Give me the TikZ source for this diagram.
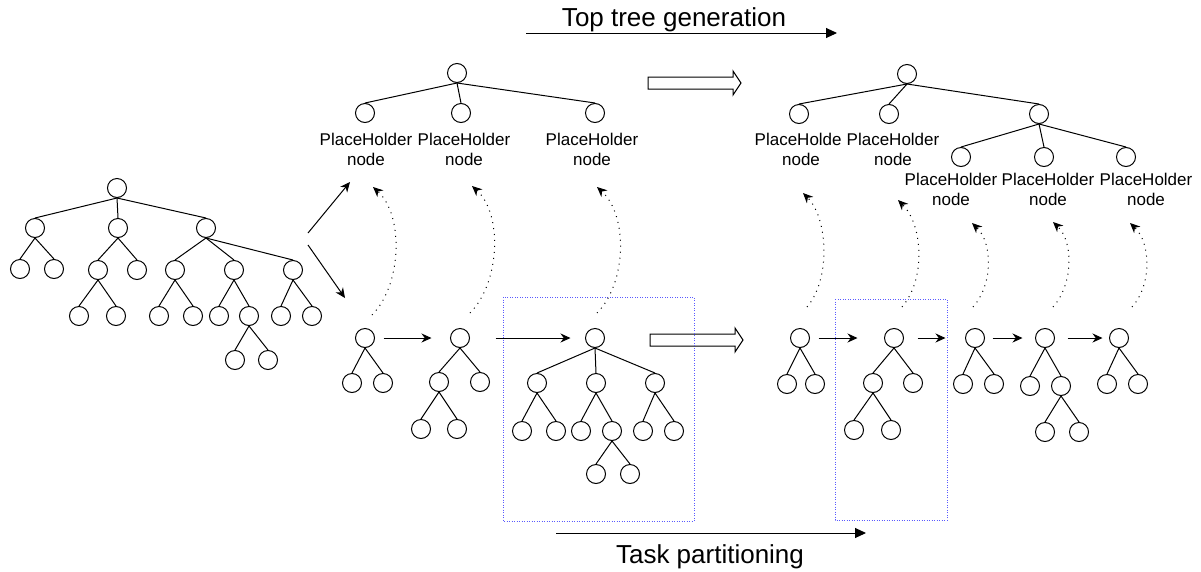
\documentclass[tikz,border=0pt]{standalone}
\usepackage{fontspec}
\setmainfont{Liberation Sans}
\usetikzlibrary{arrows.meta}
\begin{document}
\begin{tikzpicture}[x=1pt,y=-1pt,
  tn/.style={circle,draw,line width=1pt,minimum size=19pt,inner sep=0pt,fill=white},
  ed/.style={line width=1pt},
  arr/.style={line width=1pt,-{Stealth[length=10pt,width=9pt]}},
  dotarr/.style={line width=1pt,dash pattern=on 1pt off 5pt,-{Stealth[length=10pt,width=9pt]}},
  tarr/.style={line width=1pt,-{Triangle[length=11pt,width=10pt]}},
  lbl/.style={font=\fontsize{17}{20}\selectfont,align=center,inner sep=0pt},
  ttl/.style={font=\fontsize{26}{30}\selectfont,inner sep=0pt},
  grp/.style={draw={rgb,255:red,90;green,90;blue,255},line width=1pt,dash pattern=on 1pt off 1.5pt},
  hollow/.style={draw,line width=1pt,fill=white}
]
\useasboundingbox (0,0) rectangle (1201,571);

% ---------- left tree ----------
\node[tn] (L0) at (117,188) {};
\node[tn] (L1) at (35,228) {};
\node[tn] (L2) at (118,228) {};
\node[tn] (L3) at (206,228) {};
\node[tn] (L11) at (20,269) {};
\node[tn] (L12) at (54,269) {};
\node[tn] (L21) at (98,270) {};
\node[tn] (L22) at (137,270) {};
\node[tn] (L31) at (175,270) {};
\node[tn] (L32) at (234,270) {};
\node[tn] (L33) at (293,270) {};
\node[tn] (L211) at (79,316) {};
\node[tn] (L212) at (116,316) {};
\node[tn] (L311) at (159,316) {};
\node[tn] (L312) at (193,316) {};
\node[tn] (L321) at (219,316) {};
\node[tn] (L322) at (249,316) {};
\node[tn] (L331) at (281,316) {};
\node[tn] (L332) at (312,316) {};
\node[tn] (L3221) at (235,360) {};
\node[tn] (L3222) at (268,360) {};
\foreach \p/\c in {L0/L1,L0/L2,L0/L3,L1/L11,L1/L12,L2/L21,L2/L22,L3/L31,L3/L32,L3/L33,
  L21/L211,L21/L212,L31/L311,L31/L312,L32/L321,L32/L322,L33/L331,L33/L332,L322/L3221,L322/L3222}
  \draw[ed] (\p.south) -- (\c.north);

\coordinate (la1) at (308,233);
\coordinate (la2) at (350,182);
\coordinate (lb1) at (308,245);
\coordinate (lb2) at (345,298);
\draw[arr] (la1) -- (la2);
\draw[arr] (lb1) -- (lb2);

% ---------- top middle tree ----------
\node[tn] (M0) at (457,73) {};
\node[tn] (M1) at (365,113) {};
\node[tn] (M2) at (461,113) {};
\node[tn] (M3) at (595,113) {};
\foreach \c in {M1,M2,M3} \draw[ed] (M0.south) -- (\c.north);
\node[lbl] (ML1) at (366,149) {PlaceHolder\\node};
\node[lbl] (ML2) at (464,149) {PlaceHolder\\node};
\node[lbl] (ML3) at (592,149) {PlaceHolder\\node};

% ---------- top right tree ----------
\node[tn] (R0) at (907,74) {};
\node[tn] (R1) at (799,114) {};
\node[tn] (R2) at (889,114) {};
\node[tn] (R3) at (1039,114) {};
\node[tn] (R31) at (961,157) {};
\node[tn] (R32) at (1044,157) {};
\node[tn] (R33) at (1126,157) {};
\foreach \c in {R1,R2,R3} \draw[ed] (R0.south) -- (\c.north);
\foreach \c in {R31,R32,R33} \draw[ed] (R3.south) -- (\c.north);
\node[lbl] (RL1) at (801,149) {PlaceHolder\\node};
\node[lbl,fill=white,inner xsep=5pt] (RL2) at (893,149) {PlaceHolder\\node};
\node[lbl] (RL31) at (951,189) {PlaceHolder\\node};
\node[lbl] (RL32) at (1048,189) {PlaceHolder\\node};
\node[lbl] (RL33) at (1146,189) {PlaceHolder\\node};

% ---------- hollow arrows ----------
\draw[hollow] (648,77) -- (733,77) -- (733,71) -- (741,83) -- (733,95) -- (733,89) -- (648,89) -- cycle;
\draw[hollow] (650,334) -- (735,334) -- (735,328) -- (743,340) -- (735,352) -- (735,346) -- (650,346) -- cycle;

% ---------- group boxes ----------
\draw[grp] (503,297) rectangle (694,521);
\draw[grp] (835,299) rectangle (947,520);

% ---------- bottom middle trees ----------
\node[tn] (A0) at (365,338) {};
\node[tn] (A1) at (352,383) {};
\node[tn] (A2) at (383,383) {};
\node[tn] (B0) at (460,338) {};
\node[tn] (B1) at (439,382) {};
\node[tn] (B2) at (480,382) {};
\node[tn] (B11) at (421,429) {};
\node[tn] (B12) at (457,429) {};
\node[tn] (C0) at (595,338) {};
\node[tn] (C1) at (537,383) {};
\node[tn] (C2) at (596,383) {};
\node[tn] (C3) at (655,383) {};
\node[tn] (C11) at (522,431) {};
\node[tn] (C12) at (556,431) {};
\node[tn] (C21) at (581,431) {};
\node[tn] (C22) at (612,431) {};
\node[tn] (C31) at (643,431) {};
\node[tn] (C32) at (674,431) {};
\node[tn] (C221) at (596,474) {};
\node[tn] (C222) at (630,474) {};
\foreach \p/\c in {A0/A1,A0/A2,B0/B1,B0/B2,B1/B11,B1/B12,C0/C1,C0/C2,C0/C3,C1/C11,C1/C12,
  C2/C21,C2/C22,C3/C31,C3/C32,C22/C221,C22/C222}
  \draw[ed] (\p.south) -- (\c.north);
\draw[arr,shorten <=8.5pt,shorten >=18.5pt] (A0) -- (B0);
\draw[arr,shorten <=25.5pt,shorten >=14.5pt] (B0) -- (C0);

% ---------- bottom right trees ----------
\node[tn] (D0) at (800,338) {};
\node[tn] (D1) at (787,384) {};
\node[tn] (D2) at (815,384) {};
\node[tn] (E0) at (894,338) {};
\node[tn] (E1) at (873,383) {};
\node[tn] (E2) at (913,383) {};
\node[tn] (E11) at (854,430) {};
\node[tn] (E12) at (891,430) {};
\node[tn] (F0) at (975,338) {};
\node[tn] (F1) at (963,384) {};
\node[tn] (F2) at (994,384) {};
\node[tn] (G0) at (1045,338) {};
\node[tn] (G1) at (1030,386) {};
\node[tn] (G2) at (1061,386) {};
\node[tn] (G21) at (1045,432) {};
\node[tn] (G22) at (1079,432) {};
\node[tn] (H0) at (1119,338) {};
\node[tn] (H1) at (1107,384) {};
\node[tn] (H2) at (1138,384) {};
\foreach \p/\c in {D0/D1,D0/D2,E0/E1,E0/E2,E1/E11,E1/E12,F0/F1,F0/F2,G0/G1,G0/G2,G2/G21,G2/G22,H0/H1,H0/H2}
  \draw[ed] (\p.south) -- (\c.north);
\draw[arr,shorten <=8.5pt,shorten >=26.5pt] (D0) -- (E0);
\draw[arr,shorten <=13.5pt,shorten >=19.5pt] (E0) -- (F0);
\draw[arr,shorten <=7.5pt,shorten >=12.5pt] (F0) -- (G0);
\draw[arr,shorten <=12.5pt,shorten >=6.5pt] (G0) -- (H0);

% ---------- dotted curved arrows ----------
\coordinate (c1s) at (372,315); \coordinate (c1e) at (373,187);
\coordinate (c2s) at (470,313); \coordinate (c2e) at (472,186);
\coordinate (c3s) at (597,313); \coordinate (c3e) at (597,187);
\coordinate (c4s) at (807,307); \coordinate (c4e) at (803,193);
\coordinate (c5s) at (902,307); \coordinate (c5e) at (898,200);
\coordinate (c6s) at (973,307); \coordinate (c6e) at (972,223);
\coordinate (c7s) at (1053,307); \coordinate (c7e) at (1053,222);
\coordinate (c8s) at (1132,307); \coordinate (c8e) at (1130,223);
\foreach \i in {1,2,3}
  \draw[dotarr] (c\i s) .. controls +(30,-30) and +(31,28) .. (c\i e);
\foreach \i in {4,5}
  \draw[dotarr] (c\i s) .. controls +(24,-28) and +(25,25) .. (c\i e);
\foreach \i in {6,7,8}
  \draw[dotarr] (c\i s) .. controls +(20,-22) and +(21,20) .. (c\i e);

% ---------- titles ----------
\node[ttl,anchor=base] (T1) at (674,26) {Top tree generation};
\coordinate (t1a) at (526,33);
\coordinate (t1b) at (837,33);
\draw[tarr] (t1a) -- (t1b);
\node[ttl,anchor=base] (T2) at (710,563) {Task partitioning};
\coordinate (t2a) at (556,533);
\coordinate (t2b) at (866,533);
\draw[tarr] (t2a) -- (t2b);
\end{tikzpicture}
\end{document}
